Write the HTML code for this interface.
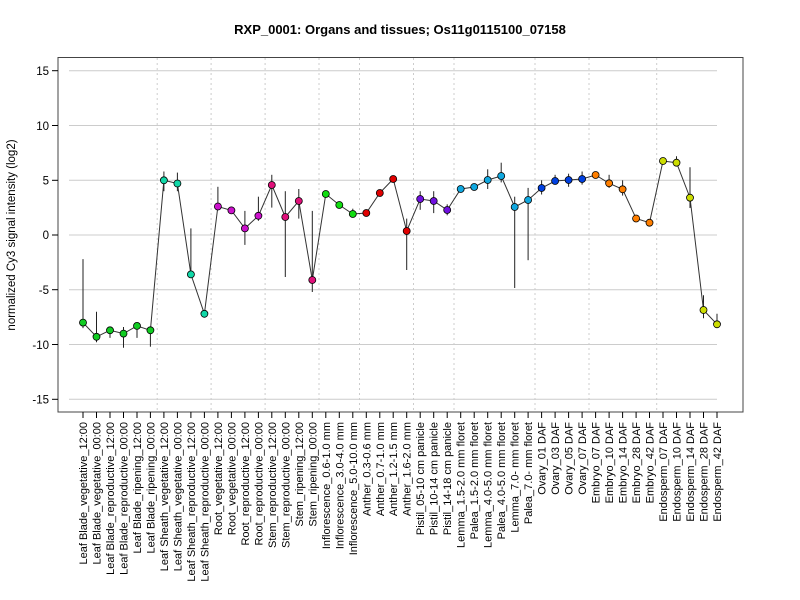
<!DOCTYPE html>
<html><head><meta charset="utf-8"><style>body{margin:0;background:#fff}svg{display:block}</style></head><body>
<svg width="800" height="600" xmlns="http://www.w3.org/2000/svg" font-family="Liberation Sans, sans-serif">
<rect width="800" height="600" fill="#fff"/>
<text x="400" y="34" text-anchor="middle" font-size="13" font-weight="bold">RXP_0001: Organs and tissues; Os11g0115100_07158</text>
<g stroke="#ccc" stroke-width="1">
<line x1="69" x2="717" y1="70.7" y2="70.7"/><line x1="69" x2="717" y1="125.5" y2="125.5"/><line x1="69" x2="717" y1="180.3" y2="180.3"/><line x1="69" x2="717" y1="235" y2="235"/><line x1="69" x2="717" y1="289.7" y2="289.7"/><line x1="69" x2="717" y1="344.5" y2="344.5"/><line x1="69" x2="717" y1="399.3" y2="399.3"/>
</g>
<g stroke="#ccc" stroke-dasharray="2,3">
<line x1="157.2" x2="157.2" y1="58" y2="412"/><line x1="211.1" x2="211.1" y1="58" y2="412"/><line x1="265.1" x2="265.1" y1="58" y2="412"/><line x1="319" x2="319" y1="58" y2="412"/><line x1="359.5" x2="359.5" y1="58" y2="412"/><line x1="413.5" x2="413.5" y1="58" y2="412"/><line x1="454" x2="454" y1="58" y2="412"/><line x1="535" x2="535" y1="58" y2="412"/><line x1="589" x2="589" y1="58" y2="412"/><line x1="656.7" x2="656.7" y1="58" y2="412"/>
</g>
<rect x="58" y="57.5" width="685" height="354.5" fill="none" stroke="#444"/>
<g stroke="#000">
<line x1="52" x2="58" y1="70.7" y2="70.7"/><line x1="52" x2="58" y1="125.5" y2="125.5"/><line x1="52" x2="58" y1="180.3" y2="180.3"/><line x1="52" x2="58" y1="235" y2="235"/><line x1="52" x2="58" y1="289.7" y2="289.7"/><line x1="52" x2="58" y1="344.5" y2="344.5"/><line x1="52" x2="58" y1="399.3" y2="399.3"/>
</g>
<g font-size="11.5" text-anchor="end">
<text x="49" y="75">15</text><text x="49" y="130">10</text><text x="49" y="184.5">5</text><text x="49" y="239">0</text><text x="49" y="294">-5</text><text x="49" y="349">-10</text><text x="49" y="403.5">-15</text>
</g>
<text transform="translate(15,235) rotate(-90)" text-anchor="middle" font-size="11.5">normalized Cy3 signal intensity (log2)</text>
<g stroke="#000">
<line x1="83" x2="83" y1="412" y2="418"/><line x1="96.5" x2="96.5" y1="412" y2="418"/><line x1="110" x2="110" y1="412" y2="418"/><line x1="123.5" x2="123.5" y1="412" y2="418"/><line x1="137" x2="137" y1="412" y2="418"/><line x1="150.4" x2="150.4" y1="412" y2="418"/><line x1="163.9" x2="163.9" y1="412" y2="418"/><line x1="177.4" x2="177.4" y1="412" y2="418"/><line x1="190.9" x2="190.9" y1="412" y2="418"/><line x1="204.4" x2="204.4" y1="412" y2="418"/><line x1="217.9" x2="217.9" y1="412" y2="418"/><line x1="231.4" x2="231.4" y1="412" y2="418"/><line x1="244.9" x2="244.9" y1="412" y2="418"/><line x1="258.4" x2="258.4" y1="412" y2="418"/><line x1="271.8" x2="271.8" y1="412" y2="418"/><line x1="285.3" x2="285.3" y1="412" y2="418"/><line x1="298.8" x2="298.8" y1="412" y2="418"/><line x1="312.3" x2="312.3" y1="412" y2="418"/><line x1="325.8" x2="325.8" y1="412" y2="418"/><line x1="339.3" x2="339.3" y1="412" y2="418"/><line x1="352.8" x2="352.8" y1="412" y2="418"/><line x1="366.3" x2="366.3" y1="412" y2="418"/><line x1="379.8" x2="379.8" y1="412" y2="418"/><line x1="393.2" x2="393.2" y1="412" y2="418"/><line x1="406.7" x2="406.7" y1="412" y2="418"/><line x1="420.2" x2="420.2" y1="412" y2="418"/><line x1="433.7" x2="433.7" y1="412" y2="418"/><line x1="447.2" x2="447.2" y1="412" y2="418"/><line x1="460.7" x2="460.7" y1="412" y2="418"/><line x1="474.2" x2="474.2" y1="412" y2="418"/><line x1="487.7" x2="487.7" y1="412" y2="418"/><line x1="501.2" x2="501.2" y1="412" y2="418"/><line x1="514.7" x2="514.7" y1="412" y2="418"/><line x1="528.1" x2="528.1" y1="412" y2="418"/><line x1="541.6" x2="541.6" y1="412" y2="418"/><line x1="555.1" x2="555.1" y1="412" y2="418"/><line x1="568.6" x2="568.6" y1="412" y2="418"/><line x1="582.1" x2="582.1" y1="412" y2="418"/><line x1="595.6" x2="595.6" y1="412" y2="418"/><line x1="609.1" x2="609.1" y1="412" y2="418"/><line x1="622.6" x2="622.6" y1="412" y2="418"/><line x1="636.1" x2="636.1" y1="412" y2="418"/><line x1="649.5" x2="649.5" y1="412" y2="418"/><line x1="663" x2="663" y1="412" y2="418"/><line x1="676.5" x2="676.5" y1="412" y2="418"/><line x1="690" x2="690" y1="412" y2="418"/><line x1="703.5" x2="703.5" y1="412" y2="418"/><line x1="717" x2="717" y1="412" y2="418"/>
</g>
<g font-size="11" text-anchor="end">
<text transform="translate(87,422) rotate(-90)">Leaf Blade_vegetative_12:00</text>
<text transform="translate(100.5,422) rotate(-90)">Leaf Blade_vegetative_00:00</text>
<text transform="translate(114,422) rotate(-90)">Leaf Blade_reproductive_12:00</text>
<text transform="translate(127.5,422) rotate(-90)">Leaf Blade_reproductive_00:00</text>
<text transform="translate(141,422) rotate(-90)">Leaf Blade_ripening_12:00</text>
<text transform="translate(154.4,422) rotate(-90)">Leaf Blade_ripening_00:00</text>
<text transform="translate(167.9,422) rotate(-90)">Leaf Sheath_vegetative_12:00</text>
<text transform="translate(181.4,422) rotate(-90)">Leaf Sheath_vegetative_00:00</text>
<text transform="translate(194.9,422) rotate(-90)">Leaf Sheath_reproductive_12:00</text>
<text transform="translate(208.4,422) rotate(-90)">Leaf Sheath_reproductive_00:00</text>
<text transform="translate(221.9,422) rotate(-90)">Root_vegetative_12:00</text>
<text transform="translate(235.4,422) rotate(-90)">Root_vegetative_00:00</text>
<text transform="translate(248.9,422) rotate(-90)">Root_reproductive_12:00</text>
<text transform="translate(262.4,422) rotate(-90)">Root_reproductive_00:00</text>
<text transform="translate(275.8,422) rotate(-90)">Stem_reproductive_12:00</text>
<text transform="translate(289.3,422) rotate(-90)">Stem_reproductive_00:00</text>
<text transform="translate(302.8,422) rotate(-90)">Stem_ripening_12:00</text>
<text transform="translate(316.3,422) rotate(-90)">Stem_ripening_00:00</text>
<text transform="translate(329.8,422) rotate(-90)">Inflorescence_0.6-1.0 mm</text>
<text transform="translate(343.3,422) rotate(-90)">Inflorescence_3.0-4.0 mm</text>
<text transform="translate(356.8,422) rotate(-90)">Inflorescence_5.0-10.0 mm</text>
<text transform="translate(370.3,422) rotate(-90)">Anther_0.3-0.6 mm</text>
<text transform="translate(383.8,422) rotate(-90)">Anther_0.7-1.0 mm</text>
<text transform="translate(397.2,422) rotate(-90)">Anther_1.2-1.5 mm</text>
<text transform="translate(410.7,422) rotate(-90)">Anther_1.6-2.0 mm</text>
<text transform="translate(424.2,422) rotate(-90)">Pistil_05-10 cm panicle</text>
<text transform="translate(437.7,422) rotate(-90)">Pistil_10-14 cm panicle</text>
<text transform="translate(451.2,422) rotate(-90)">Pistil_14-18 cm panicle</text>
<text transform="translate(464.7,422) rotate(-90)">Lemma_1.5-2.0 mm floret</text>
<text transform="translate(478.2,422) rotate(-90)">Palea_1.5-2.0 mm floret</text>
<text transform="translate(491.7,422) rotate(-90)">Lemma_4.0-5.0 mm floret</text>
<text transform="translate(505.2,422) rotate(-90)">Palea_4.0-5.0 mm floret</text>
<text transform="translate(518.7,422) rotate(-90)">Lemma_7.0- mm floret</text>
<text transform="translate(532.1,422) rotate(-90)">Palea_7.0- mm floret</text>
<text transform="translate(545.6,422) rotate(-90)">Ovary_01 DAF</text>
<text transform="translate(559.1,422) rotate(-90)">Ovary_03 DAF</text>
<text transform="translate(572.6,422) rotate(-90)">Ovary_05 DAF</text>
<text transform="translate(586.1,422) rotate(-90)">Ovary_07 DAF</text>
<text transform="translate(599.6,422) rotate(-90)">Embryo_07 DAF</text>
<text transform="translate(613.1,422) rotate(-90)">Embryo_10 DAF</text>
<text transform="translate(626.6,422) rotate(-90)">Embryo_14 DAF</text>
<text transform="translate(640.1,422) rotate(-90)">Embryo_28 DAF</text>
<text transform="translate(653.5,422) rotate(-90)">Embryo_42 DAF</text>
<text transform="translate(667,422) rotate(-90)">Endosperm_07 DAF</text>
<text transform="translate(680.5,422) rotate(-90)">Endosperm_10 DAF</text>
<text transform="translate(694,422) rotate(-90)">Endosperm_14 DAF</text>
<text transform="translate(707.5,422) rotate(-90)">Endosperm_28 DAF</text>
<text transform="translate(721,422) rotate(-90)">Endosperm_42 DAF</text>
</g>
<g stroke="#222" stroke-width="1">
<line x1="83" x2="83" y1="259.1" y2="328.1"/><line x1="96.5" x2="96.5" y1="311.7" y2="342.3"/><line x1="110" x2="110" y1="327" y2="337.9"/><line x1="123.5" x2="123.5" y1="327" y2="347.8"/><line x1="137" x2="137" y1="325.9" y2="337.9"/><line x1="150.4" x2="150.4" y1="330.3" y2="346.7"/>
<line x1="163.9" x2="163.9" y1="171.5" y2="191.2"/><line x1="177.4" x2="177.4" y1="172.6" y2="191.2"/><line x1="190.9" x2="190.9" y1="228.4" y2="274.4"/>
<line x1="217.9" x2="217.9" y1="186.8" y2="206.5"/><line x1="231.4" x2="231.4" y1="206.5" y2="213.1"/><line x1="244.9" x2="244.9" y1="210.9" y2="244.9"/><line x1="258.4" x2="258.4" y1="196.7" y2="220.8"/>
<line x1="271.8" x2="271.8" y1="174.8" y2="207.6"/><line x1="285.3" x2="285.3" y1="191.2" y2="277"/><line x1="298.8" x2="298.8" y1="189" y2="218.6"/><line x1="312.3" x2="312.3" y1="210.9" y2="292"/>
<line x1="352.8" x2="352.8" y1="208.7" y2="217.5"/><line x1="406.7" x2="406.7" y1="218.6" y2="270"/>
<line x1="420.2" x2="420.2" y1="191.2" y2="209.8"/><line x1="433.7" x2="433.7" y1="191.2" y2="213.1"/><line x1="447.2" x2="447.2" y1="204.3" y2="215.3"/>
<line x1="474.2" x2="474.2" y1="183.5" y2="189"/><line x1="487.7" x2="487.7" y1="169.3" y2="189"/><line x1="501.2" x2="501.2" y1="162.7" y2="182.4"/><line x1="514.7" x2="514.7" y1="196.7" y2="288"/><line x1="528.1" x2="528.1" y1="187.9" y2="260.2"/>
<line x1="541.6" x2="541.6" y1="180.3" y2="194.5"/><line x1="555.1" x2="555.1" y1="174.8" y2="183"/><line x1="568.6" x2="568.6" y1="173.7" y2="186.8"/><line x1="582.1" x2="582.1" y1="171.5" y2="184.6"/>
<line x1="609.1" x2="609.1" y1="174.8" y2="187.9"/><line x1="622.6" x2="622.6" y1="180.3" y2="195.6"/>
<line x1="676.5" x2="676.5" y1="156.2" y2="163"/><line x1="690" x2="690" y1="167.3" y2="208"/><line x1="703.5" x2="703.5" y1="295.2" y2="318.2"/><line x1="717" x2="717" y1="313.8" y2="325.9"/>
</g>
<polyline fill="none" stroke="#333" stroke-width="1" points="83,322.6 96.5,336.8 110,330.3 123.5,333.6 137,325.9 150.4,330.3 163.9,180.3 177.4,183.5 190.9,274.4 204.4,313.8 217.9,206.5 231.4,210.4 244.9,228.4 258.4,215.8 271.8,185 285.3,217 298.8,201 312.3,280 325.8,194 339.3,205 352.8,214 366.3,213 379.8,193 393.2,179 406.7,231 420.2,199 433.7,201 447.2,210 460.7,189 474.2,187 487.7,180 501.2,176 514.7,207 528.1,200 541.6,188 555.1,181 568.6,180 582.1,179 595.6,175 609.1,183.3 622.6,189.3 636.1,218.5 649.5,222.7 663,161 676.5,162.7 690,197.7 703.5,310 717,324.3"/>
<g stroke="#000" stroke-width="0.8">
<g fill="#11cc22"><circle cx="83" cy="322.6" r="3.5"/><circle cx="96.5" cy="336.8" r="3.5"/><circle cx="110" cy="330.3" r="3.5"/><circle cx="123.5" cy="333.6" r="3.5"/><circle cx="137" cy="325.9" r="3.5"/><circle cx="150.4" cy="330.3" r="3.5"/></g>
<g fill="#11d8a8"><circle cx="163.9" cy="180.3" r="3.5"/><circle cx="177.4" cy="183.5" r="3.5"/><circle cx="190.9" cy="274.4" r="3.5"/><circle cx="204.4" cy="313.8" r="3.5"/></g>
<g fill="#cc11cc"><circle cx="217.9" cy="206.5" r="3.5"/><circle cx="231.4" cy="210.4" r="3.5"/><circle cx="244.9" cy="228.4" r="3.5"/><circle cx="258.4" cy="215.8" r="3.5"/></g>
<g fill="#e0107a"><circle cx="271.8" cy="185" r="3.5"/><circle cx="285.3" cy="217" r="3.5"/><circle cx="298.8" cy="201" r="3.5"/><circle cx="312.3" cy="280" r="3.5"/></g>
<g fill="#11dd11"><circle cx="325.8" cy="194" r="3.5"/><circle cx="339.3" cy="205" r="3.5"/><circle cx="352.8" cy="214" r="3.5"/></g>
<g fill="#e00000"><circle cx="366.3" cy="213" r="3.5"/><circle cx="379.8" cy="193" r="3.5"/><circle cx="393.2" cy="179" r="3.5"/><circle cx="406.7" cy="231" r="3.5"/></g>
<g fill="#7010e0"><circle cx="420.2" cy="199" r="3.5"/><circle cx="433.7" cy="201" r="3.5"/><circle cx="447.2" cy="210" r="3.5"/></g>
<g fill="#11a8e0"><circle cx="460.7" cy="189" r="3.5"/><circle cx="474.2" cy="187" r="3.5"/><circle cx="487.7" cy="180" r="3.5"/><circle cx="501.2" cy="176" r="3.5"/><circle cx="514.7" cy="207" r="3.5"/><circle cx="528.1" cy="200" r="3.5"/></g>
<g fill="#0040e0"><circle cx="541.6" cy="188" r="3.5"/><circle cx="555.1" cy="181" r="3.5"/><circle cx="568.6" cy="180" r="3.5"/><circle cx="582.1" cy="179" r="3.5"/></g>
<g fill="#ff7f00"><circle cx="595.6" cy="175" r="3.5"/><circle cx="609.1" cy="183.3" r="3.5"/><circle cx="622.6" cy="189.3" r="3.5"/><circle cx="636.1" cy="218.5" r="3.5"/><circle cx="649.5" cy="222.7" r="3.5"/></g>
<g fill="#ccdd00"><circle cx="663" cy="161" r="3.5"/><circle cx="676.5" cy="162.7" r="3.5"/><circle cx="690" cy="197.7" r="3.5"/><circle cx="703.5" cy="310" r="3.5"/><circle cx="717" cy="324.3" r="3.5"/></g>
</g>
</svg>
</body></html>
